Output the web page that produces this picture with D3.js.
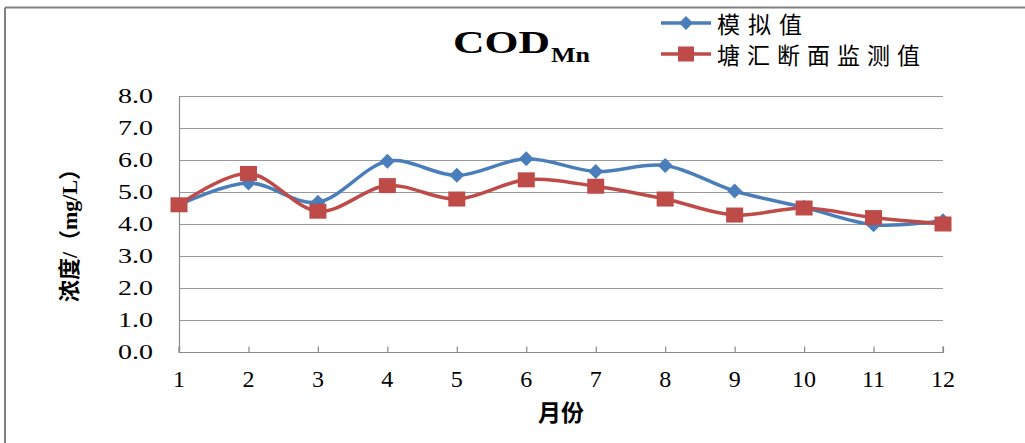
<!DOCTYPE html>
<html>
<head>
<meta charset="utf-8">
<script src="https://cdn.jsdelivr.net/npm/d3@7"></script>
<style>
  html, body { margin: 0; padding: 0; background: #fff; }
  svg { display: block; }
</style>
</head>
<body>
<script>
// ---- data ----
const months = [1, 2, 3, 4, 5, 6, 7, 8, 9, 10, 11, 12];
const simulated = [4.60, 5.28, 4.68, 5.96, 5.52, 6.04, 5.64, 5.83, 5.03, 4.52, 3.98, 4.10];
const measured  = [4.60, 5.58, 4.40, 5.20, 4.78, 5.38, 5.18, 4.78, 4.28, 4.50, 4.20, 4.00];
const yTicks = [0, 1, 2, 3, 4, 5, 6, 7, 8];
const seriesNames = ["模拟值", "塘汇断面监测值"];
const titleMain = "COD";
const titleSub = "Mn";
const yTitle = "浓度/（mg/L）";
const xTitle = "月份";

const W = 1025, H = 443;
const svg = d3.select("body").append("svg").attr("width", W).attr("height", H);

const serif = "'Liberation Serif','Noto Sans CJK SC',serif";
const cjk = "'Noto Sans CJK SC','Liberation Serif',sans-serif";
const blue = "#4A7EBB", red = "#BE4B48";

// chart frame (top and left edges visible)
svg.append("line").attr("x1", 5).attr("x2", W).attr("y1", 7.5).attr("y2", 7.5)
  .attr("stroke", "#808080").attr("stroke-width", 2);
svg.append("line").attr("x1", 5).attr("x2", 5).attr("y1", 7.5).attr("y2", H)
  .attr("stroke", "#808080").attr("stroke-width", 2);

// scales
const x = d3.scaleLinear().domain([1, 12]).range([179, 943]);
const y = d3.scaleLinear().domain([0, 8]).range([352, 96]);

// gridlines
svg.append("g").selectAll("line").data(yTicks.filter(d => d > 0)).join("line")
  .attr("x1", x(1)).attr("x2", x(12))
  .attr("y1", d => Math.round(y(d)) + 0.5).attr("y2", d => Math.round(y(d)) + 0.5)
  .attr("stroke", "#9a9a9a").attr("stroke-width", 1.2);

// y axis line
svg.append("line").attr("x1", x(1) + 0.5).attr("x2", x(1) + 0.5).attr("y1", y(8)).attr("y2", y(0))
  .attr("stroke", "#8a8a8a").attr("stroke-width", 1.2);

// x axis with inner ticks
const xAxis = d3.axisBottom(x).tickValues(months).tickSize(-6).tickFormat("");
const gx = svg.append("g").attr("transform", `translate(0,${Math.round(y(0)) + 0.5})`).call(xAxis);
gx.select(".domain").attr("stroke", "#8a8a8a").attr("stroke-width", 1.2).attr("d", `M${x(1)},-6V0H${x(12)}V-6`);
gx.selectAll(".tick line").attr("stroke", "#8a8a8a").attr("stroke-width", 1.2);

// y tick labels
svg.append("g").selectAll("text").data(yTicks).join("text")
  .attr("x", 153).attr("y", d => y(d))
  .attr("dy", "0.34em").attr("text-anchor", "end")
  .attr("font-family", serif).attr("font-size", 21).attr("fill", "#000")
  .attr("textLength", 35).attr("lengthAdjust", "spacingAndGlyphs")
  .text(d => d.toFixed(1));

// x tick labels
svg.append("g").selectAll("text").data(months).join("text")
  .attr("x", d => x(d)).attr("y", 387)
  .attr("text-anchor", "middle")
  .attr("font-family", serif).attr("font-size", 24).attr("fill", "#000")
  .text(d => d);

// axis titles
svg.append("text").attr("transform", "translate(69,230) rotate(-90)")
  .attr("text-anchor", "middle").attr("dominant-baseline", "central")
  .attr("font-family", serif).attr("font-weight", "bold").attr("font-size", 22)
  .attr("textLength", 144).attr("lengthAdjust", "spacingAndGlyphs")
  .text(yTitle);
svg.append("text").attr("x", 561).attr("y", 411)
  .attr("text-anchor", "middle").attr("dominant-baseline", "central")
  .attr("font-family", cjk).attr("font-weight", "bold").attr("font-size", 23)
  .text(xTitle);

// title
svg.append("text").attr("x", 453).attr("y", 53)
  .attr("font-family", serif).attr("font-weight", "bold").attr("font-size", 31)
  .attr("textLength", 97).attr("lengthAdjust", "spacingAndGlyphs").text(titleMain);
svg.append("text").attr("x", 551).attr("y", 62)
  .attr("font-family", serif).attr("font-weight", "bold").attr("font-size", 21)
  .attr("textLength", 39).attr("lengthAdjust", "spacingAndGlyphs").text(titleSub);

// lines
const line = d3.line().x((d, i) => x(months[i])).y(d => y(d)).curve(d3.curveCardinal.tension(0));
const diamond = (cx, cy, r) => `M${cx},${cy - r}L${cx + r},${cy}L${cx},${cy + r}L${cx - r},${cy}Z`;

svg.append("path").datum(simulated).attr("d", line)
  .attr("fill", "none").attr("stroke", blue).attr("stroke-width", 3.5).attr("stroke-linejoin", "round");
svg.append("g").selectAll("path").data(simulated).join("path")
  .attr("d", (d, i) => diamond(x(months[i]), y(d), 7.5)).attr("fill", blue);

svg.append("path").datum(measured).attr("d", line)
  .attr("fill", "none").attr("stroke", red).attr("stroke-width", 3.5).attr("stroke-linejoin", "round");
svg.append("g").selectAll("rect").data(measured).join("rect")
  .attr("x", (d, i) => x(months[i]) - 8.5).attr("y", d => y(d) - 7.5)
  .attr("width", 17).attr("height", 15).attr("fill", red);

// legend
const leg = [
  { name: seriesNames[0], color: blue, cy: 23, mark: "d", len: 85 },
  { name: seriesNames[1], color: red, cy: 54, mark: "s", len: 203 }
];
leg.forEach(l => {
  svg.append("line").attr("x1", 661).attr("x2", 711).attr("y1", l.cy).attr("y2", l.cy)
    .attr("stroke", l.color).attr("stroke-width", 3.5);
  if (l.mark === "d") {
    svg.append("path").attr("d", diamond(686, l.cy, 7)).attr("fill", l.color);
  } else {
    svg.append("rect").attr("x", 678).attr("y", l.cy - 7.5).attr("width", 16).attr("height", 15).attr("fill", l.color);
  }
  svg.append("text").attr("x", 717).attr("y", l.cy)
    .attr("dominant-baseline", "central")
    .attr("font-family", cjk).attr("font-size", 23).attr("fill", "#000")
    .attr("textLength", l.len).attr("lengthAdjust", "spacing")
    .text(l.name);
});
</script>
</body>
</html>
